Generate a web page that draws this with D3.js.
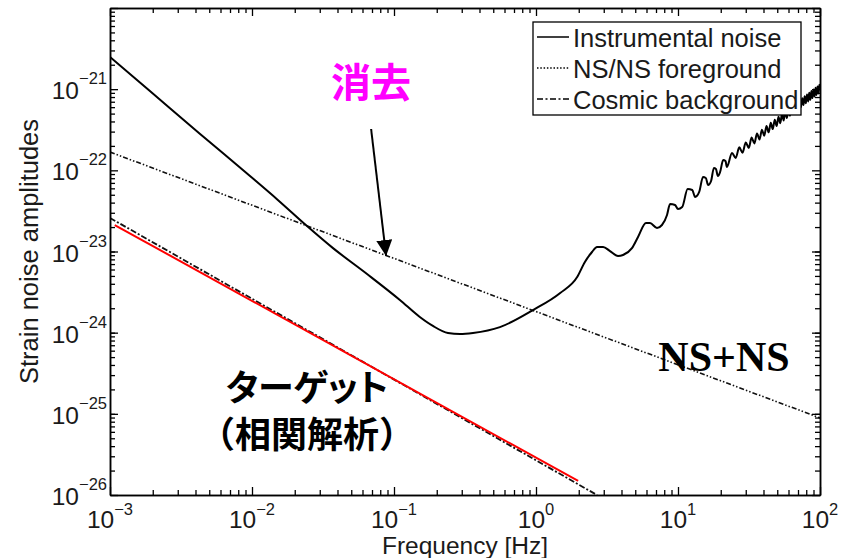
<!doctype html>
<html lang="ja">
<head>
<meta charset="utf-8">
<title>strain noise</title>
<style>
  body { margin: 0; background: #fff; }
  #chart { width: 852px; height: 558px; }
  text { font-family: "Liberation Sans", Arial, sans-serif; fill: #1a1a1a; }
  .jp { font-family: "Noto Sans CJK JP", sans-serif; font-weight: bold; }
</style>
</head>
<body>
<div id="chart"></div>
<script src="https://cdnjs.cloudflare.com/ajax/libs/d3/7.8.5/d3.min.js"></script>
<script>
// values: [frequency Hz, strain amplitude]
var instrumentalNoise = [
  [1e-3, 2.49e-21], [1.91e-3, 9.48e-22], [4.31e-3, 2.81e-22], [9.68e-3, 8.51e-23],
  [1.52e-2, 4.32e-23], [2.44e-2, 2.06e-23], [3.72e-2, 1.10e-23], [6.46e-2, 5.28e-24],
  [0.110, 2.53e-24], [0.152, 1.56e-24], [0.188, 1.21e-24], [0.240, 9.9e-25],
  [0.292, 9.6e-25], [0.360, 9.9e-25], [0.557, 1.17e-24], [0.953, 1.90e-24],
  [1.48, 3.08e-24], [1.95, 4.85e-24], [2.21, 7.43e-24], [2.48, 9.86e-24],
  [2.69, 1.14e-23], [2.97, 1.14e-23], [3.32, 1.01e-23], [3.78, 8.81e-24],
  [4.10, 9.06e-24], [4.74, 1.10e-23], [5.23, 1.51e-23], [5.95, 2.24e-23],
  [6.35, 2.24e-23], [7.11, 1.95e-23], [7.71, 2.12e-23], [8.37, 2.82e-23],
  [8.79, 3.85e-23], [9.53, 3.74e-23], [10.0, 3.34e-23], [10.7, 3.53e-23],
  [11.7, 5.89e-23], [12.6, 5.73e-23], [13.2, 4.70e-23], [14.1, 5.41e-23],
  [15.0, 8.28e-23], [15.7, 8.05e-23], [16.3, 6.59e-23], [17.1, 7.39e-23],
  [17.9, 1.07e-22], [18.5, 1.04e-22], [19.1, 8.51e-23], [19.8, 9.55e-23],
  [20.8, 1.34e-22], [21.6, 1.30e-22], [22.1, 1.10e-22],
  [24, 1.63e-22], [25.5, 1.42e-22], [27, 1.92e-22], [28.5, 1.65e-22],
  [30, 2.21e-22], [31.5, 1.89e-22], [33, 2.53e-22], [34.5, 2.14e-22],
  [36, 2.84e-22], [37.5, 2.40e-22], [39, 3.17e-22], [40.5, 2.67e-22],
  [42, 3.51e-22], [43.5, 2.94e-22], [45, 3.85e-22], [46.5, 3.22e-22],
  [48, 4.21e-22], [49.5, 3.51e-22], [51, 4.58e-22], [52.5, 3.80e-22],
  [54, 4.93e-22], [55.5, 4.10e-22], [57, 5.32e-22], [58.5, 4.41e-22],
  [60, 5.70e-22], [61.5, 4.72e-22], [63, 6.10e-22], [64.5, 5.05e-22],
  [66, 6.52e-22], [67.5, 5.37e-22], [69, 6.92e-22], [70.5, 5.69e-22],
  [72, 7.31e-22], [73.5, 6.02e-22], [75, 7.74e-22], [76.5, 6.36e-22],
  [78, 8.17e-22], [79.5, 6.70e-22], [81, 8.59e-22], [82.5, 7.05e-22],
  [84, 9.03e-22], [85.5, 7.40e-22], [87, 9.48e-22], [88.5, 7.76e-22],
  [90, 9.93e-22], [91.5, 8.13e-22], [93, 1.04e-21], [94.5, 8.48e-22],
  [96, 1.08e-21], [97.5, 8.84e-22], [99, 1.13e-21], [100, 1.05e-21]
];
var nsForeground = [[1e-3, 1.68e-22], [1e2, 8.9e-26]];
var cosmicBackground = [[1e-3, 2.59e-23], [2.69, 1e-26]];
var targetLine = [[1.08e-3, 2.12e-23], [1.98, 1.49e-26]];

var xTickExps = [-3, -2, -1, 0, 1, 2];
var yTickExps = [-26, -25, -24, -23, -22, -21];
var legendLabels = ['Instrumental noise', 'NS/NS foreground', 'Cosmic background'];
var legendDash = ['none', '1.5,1.8', '6,2.5,2,2.5'];

// annotation anchors in data units
var arrowFrom = [0.069, 3.23e-22];
var arrowTo = [0.088, 8.8e-24];

var chartWidth = 852;
var chartHeight = 558;
var plotLeft = 110, plotRight = 820, plotTop = 8, plotBottom = 495;

var svg = d3.select('#chart')
  .append('svg')
  .attr('width', chartWidth)
  .attr('height', chartHeight);

svg.append('rect')
  .attr('width', chartWidth)
  .attr('height', chartHeight)
  .attr('fill', '#fff');

var xscale = d3.scaleLog().domain([1e-3, 1e2]).range([plotLeft, plotRight]);
var yscale = d3.scaleLog().domain([1e-26, 1e-20]).range([plotBottom, plotTop]);

svg.append('clipPath').attr('id', 'plot-clip')
  .append('rect')
  .attr('x', plotLeft).attr('y', plotTop)
  .attr('width', plotRight - plotLeft).attr('height', plotBottom - plotTop);

var line = d3.line()
  .x(function(d){ return xscale(d[0]); })
  .y(function(d){ return yscale(d[1]); });

var plot = svg.append('g').attr('clip-path', 'url(#plot-clip)');

plot.append('path')
  .datum(nsForeground)
  .attr('d', line)
  .attr('fill', 'none')
  .attr('stroke', '#111')
  .attr('stroke-width', 1.6)
  .attr('stroke-dasharray', '5,2,1.5,2,1.5,2');

plot.append('path')
  .datum(cosmicBackground)
  .attr('d', line)
  .attr('fill', 'none')
  .attr('stroke', '#111')
  .attr('stroke-width', 1.8)
  .attr('stroke-dasharray', '6,2,2,2');

plot.append('path')
  .datum(targetLine)
  .attr('d', line)
  .attr('fill', 'none')
  .attr('stroke', '#ff0000')
  .attr('stroke-width', 2);

plot.append('path')
  .datum(instrumentalNoise)
  .attr('d', line.curve(d3.curveMonotoneX))
  .attr('fill', 'none')
  .attr('stroke', '#000')
  .attr('stroke-width', 2)
  .attr('stroke-linejoin', 'round');

// axes: major + minor ticks pointing inward on all four sides
var xMajor = xTickExps.map(function(e){ return Math.pow(10, e); });
var yMajor = yTickExps.concat([-20]).map(function(e){ return Math.pow(10, e); });
var xMinor = xscale.ticks().filter(function(t){ return xMajor.indexOf(t) < 0; });
var yMinor = yscale.ticks().filter(function(t){ return yMajor.indexOf(t) < 0; });

function addAxis(axis, tx, ty){
  var g = svg.append('g')
    .attr('transform', 'translate(' + tx + ',' + ty + ')')
    .call(axis);
  g.selectAll('text').remove();
  g.select('.domain').attr('stroke', '#000').attr('stroke-width', 1.5);
  g.selectAll('line').attr('stroke', '#000').attr('stroke-width', 1.3);
  return g;
}

addAxis(d3.axisBottom(xscale).tickValues(xMajor).tickSizeInner(-8).tickSizeOuter(0), 0, plotBottom);
addAxis(d3.axisBottom(xscale).tickValues(xMinor).tickSizeInner(-5).tickSizeOuter(0), 0, plotBottom);
addAxis(d3.axisTop(xscale).tickValues(xMajor).tickSizeInner(-8).tickSizeOuter(0), 0, plotTop);
addAxis(d3.axisTop(xscale).tickValues(xMinor).tickSizeInner(-5).tickSizeOuter(0), 0, plotTop);
addAxis(d3.axisLeft(yscale).tickValues(yMajor).tickSizeInner(-8).tickSizeOuter(0), plotLeft, 0);
addAxis(d3.axisLeft(yscale).tickValues(yMinor).tickSizeInner(-5).tickSizeOuter(0), plotLeft, 0);
addAxis(d3.axisRight(yscale).tickValues(yMajor).tickSizeInner(-8).tickSizeOuter(0), plotRight, 0);
addAxis(d3.axisRight(yscale).tickValues(yMinor).tickSizeInner(-5).tickSizeOuter(0), plotRight, 0);

// tick labels 10^n
var xl = svg.append('g').selectAll('text')
  .data(xTickExps)
  .enter()
  .append('text')
  .attr('x', function(d){ return xscale(Math.pow(10, d)); })
  .attr('y', 528)
  .attr('text-anchor', 'middle')
  .style('font-size', '24.5px');
xl.append('tspan').text('10');
xl.append('tspan').attr('dy', -13).style('font-size', '16.5px')
  .text(function(d){ return String(d).replace('-', '\u2212'); });

var yl = svg.append('g').selectAll('text')
  .data(yTickExps)
  .enter()
  .append('text')
  .attr('x', 107)
  .attr('y', function(d){ return yscale(Math.pow(10, d)) + 10; })
  .attr('text-anchor', 'end')
  .style('font-size', '24.5px');
yl.append('tspan').text('10');
yl.append('tspan').attr('dy', -15).style('font-size', '16.5px')
  .text(function(d){ return String(d).replace('-', '\u2212'); });

svg.append('text')
  .attr('x', (plotLeft + plotRight) / 2)
  .attr('y', 554)
  .attr('text-anchor', 'middle')
  .style('font-size', '24.5px')
  .text('Frequency [Hz]');

svg.append('text')
  .attr('transform', 'translate(38,' + ((plotTop + plotBottom) / 2) + ') rotate(-90)')
  .attr('text-anchor', 'middle')
  .style('font-size', '25.5px')
  .text('Strain noise amplitudes');

// legend
var legend = svg.append('g');
legend.append('rect')
  .attr('x', 533).attr('y', 22)
  .attr('width', 268).attr('height', 93)
  .attr('fill', '#fff')
  .attr('stroke', '#000')
  .attr('stroke-width', 1.3);

var rows = legend.selectAll('g.row')
  .data(legendLabels)
  .enter()
  .append('g')
  .attr('class', 'row')
  .attr('transform', function(d, i){ return 'translate(0,' + (37 + i * 31) + ')'; });

rows.append('line')
  .attr('x1', 537).attr('x2', 569)
  .attr('stroke', '#000')
  .attr('stroke-width', 1.5)
  .attr('stroke-dasharray', function(d, i){ return legendDash[i]; });

rows.append('text')
  .attr('x', 573)
  .attr('y', 9.5)
  .style('font-size', '25.5px')
  .text(function(d){ return d; });

// annotations
svg.append('defs').append('marker')
  .attr('id', 'head')
  .attr('viewBox', '0 0 10 10')
  .attr('refX', 10).attr('refY', 5)
  .attr('markerWidth', 16).attr('markerHeight', 16)
  .attr('markerUnits', 'userSpaceOnUse')
  .attr('orient', 'auto')
  .append('path')
  .attr('d', 'M0,0 L10,5 L0,10 z')
  .attr('fill', '#000');

svg.append('line')
  .attr('x1', xscale(arrowFrom[0])).attr('y1', yscale(arrowFrom[1]))
  .attr('x2', xscale(arrowTo[0])).attr('y2', yscale(arrowTo[1]))
  .attr('stroke', '#000')
  .attr('stroke-width', 2)
  .attr('marker-end', 'url(#head)');

svg.append('text')
  .attr('class', 'jp')
  .attr('x', 371).attr('y', 97)
  .attr('text-anchor', 'middle')
  .style('font-size', '40px')
  .style('fill', '#ff00ff')
  .text('消去');

svg.append('text')
  .attr('class', 'jp')
  .attr('x', 307).attr('y', 401)
  .attr('text-anchor', 'middle')
  .style('font-size', '36px')
  .style('font-feature-settings', '"palt"')
  .style('fill', '#000')
  .text('ターゲット');

svg.append('text')
  .attr('class', 'jp')
  .attr('x', 307).attr('y', 448)
  .attr('text-anchor', 'middle')
  .style('font-size', '36px')
  .style('fill', '#000')
  .text('（相関解析）');

svg.append('text')
  .attr('x', 724).attr('y', 371)
  .attr('text-anchor', 'middle')
  .style('font-family', '"Liberation Serif", "Times New Roman", serif')
  .style('font-weight', 'bold')
  .style('font-size', '42px')
  .style('fill', '#000')
  .text('NS+NS');
</script>
</body>
</html>
